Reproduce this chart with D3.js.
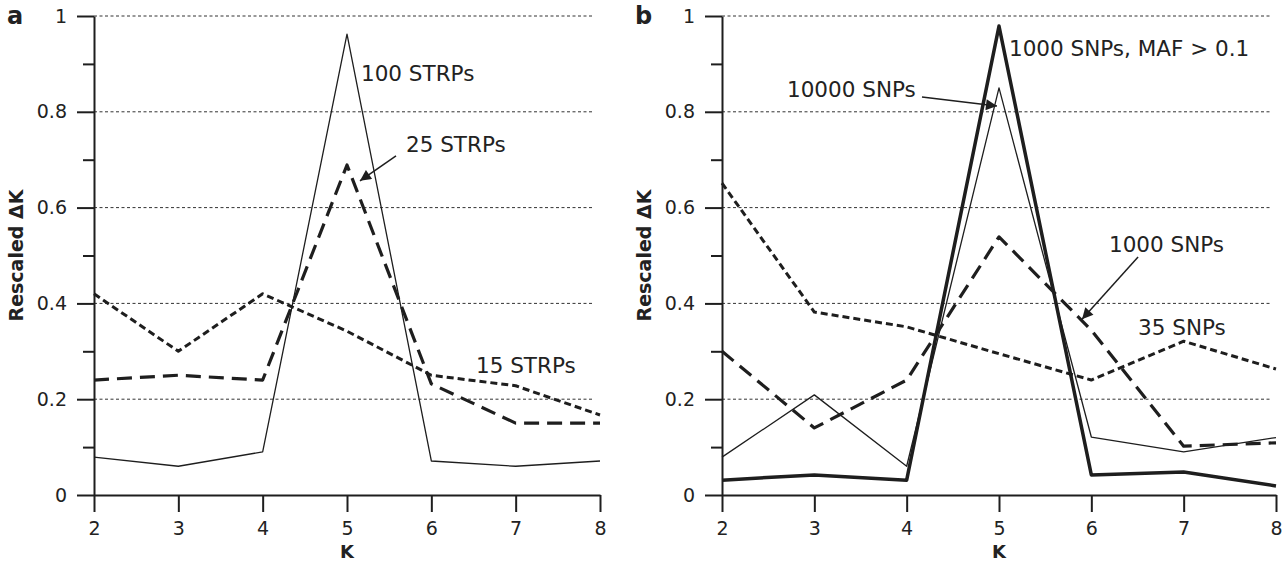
<!DOCTYPE html>
<html>
<head>
<meta charset="utf-8">
<script src="https://cdn.jsdelivr.net/npm/d3@7"></script>
<style>
  body { margin: 0; background: #fff; }
  text { font-family: "DejaVu Sans", sans-serif; fill: #222; }
</style>
</head>
<body>
<svg width="1282" height="561"></svg>
<script>
var kValues = [2, 3, 4, 5, 6, 7, 8];
var yMajor = [0, 0.2, 0.4, 0.6, 0.8, 1];
var yMinor = [0.1, 0.3, 0.5, 0.7, 0.9];
var yTickLabels = ["0", "0.2", "0.4", "0.6", "0.8", "1"];

// panel a: STRPs
var strp100 = [0.079, 0.060, 0.090, 0.962, 0.071, 0.060, 0.071];
var strp25  = [0.240, 0.250, 0.240, 0.689, 0.232, 0.150, 0.150];
var strp15  = [0.420, 0.300, 0.420, 0.342, 0.250, 0.228, 0.167];

// panel b: SNPs
var snp1000maf = [0.031, 0.042, 0.031, 0.979, 0.042, 0.048, 0.019];
var snp10000   = [0.079, 0.209, 0.060, 0.850, 0.121, 0.090, 0.120];
var snp1000    = [0.300, 0.140, 0.240, 0.539, 0.344, 0.102, 0.109];
var snp35      = [0.651, 0.382, 0.351, 0.295, 0.240, 0.321, 0.263];

// annotation labels, in data coordinates [K, value]
var labelsA = [
  {text: "100 STRPs", at: [5.166, 0.864]},
  {text: "25 STRPs", at: [5.70, 0.716], from: [5.581, 0.708], to: [5.154, 0.656]},
  {text: "15 STRPs", at: [6.53, 0.255]}
];
var labelsB = [
  {text: "1000 SNPs, MAF > 0.1", at: [5.108, 0.916]},
  {text: "10000 SNPs", at: [2.704, 0.831], from: [4.166, 0.831], to: [4.978, 0.812]},
  {text: "1000 SNPs", at: [6.191, 0.507], from: [6.506, 0.497], to: [5.899, 0.367]},
  {text: "35 SNPs", at: [6.506, 0.334]}
];

var ink = "#1e1e1e";
var svg = d3.select("svg");

svg.append("defs").append("marker")
    .attr("id", "arrow")
    .attr("viewBox", "0 0 10 10")
    .attr("refX", 10)
    .attr("refY", 5)
    .attr("markerUnits", "userSpaceOnUse")
    .attr("markerWidth", 13)
    .attr("markerHeight", 11)
    .attr("orient", "auto")
  .append("path")
    .attr("d", "M0,0L10,5L0,10z")
    .attr("fill", ink);

var y = d3.scaleLinear().domain([0, 1]).range([495, 16]);

function drawPanel(letter, x0, x1, series, labels) {
  var x = d3.scaleLinear().domain([2, 8]).range([x0, x1]);
  var g = svg.append("g");

  // dotted grid
  g.append("g").selectAll("line")
    .data(yMajor.slice(1))
    .enter().append("line")
      .attr("x1", x0)
      .attr("x2", x1 - 6)
      .attr("y1", function(d) { return y(d); })
      .attr("y2", function(d) { return y(d); })
      .attr("stroke", "#333")
      .attr("stroke-width", 1)
      .attr("stroke-dasharray", "3,2.5");

  var yAxis = g.append("g")
      .attr("transform", "translate(" + x0 + ",0)")
      .call(d3.axisLeft(y).tickValues(yMajor).tickSize(17).tickSizeOuter(0).tickPadding(10)
        .tickFormat(function(d, i) { return yTickLabels[i]; }));

  g.append("g")
      .attr("transform", "translate(" + x0 + ",0)")
      .call(d3.axisLeft(y).tickValues(yMinor).tickSize(11).tickSizeOuter(0).tickFormat(""))
      .select(".domain").remove();

  var xAxis = g.append("g")
      .attr("transform", "translate(0," + y(0) + ")")
      .call(d3.axisBottom(x).tickValues(kValues).tickSize(17).tickSizeOuter(0).tickPadding(10)
        .tickFormat(d3.format("d")));

  g.selectAll(".domain, .tick line")
      .attr("stroke", ink)
      .attr("stroke-width", 2);
  g.selectAll(".tick text")
      .attr("font-family", "DejaVu Sans")
      .attr("font-size", 19)
      .attr("fill", ink);

  var line = d3.line()
      .x(function(d, i) { return x(kValues[i]); })
      .y(function(d) { return y(d); });

  series.forEach(function(s) {
    g.append("path")
      .datum(s.values)
      .attr("d", line)
      .attr("fill", "none")
      .attr("stroke", ink)
      .attr("stroke-width", s.width)
      .attr("stroke-linejoin", "round")
      .attr("stroke-dasharray", s.dash);
  });

  labels.forEach(function(l) {
    g.append("text")
      .attr("x", x(l.at[0]))
      .attr("y", y(l.at[1]))
      .attr("font-size", 21.5)
      .text(l.text);
    if (l.from) {
      g.append("line")
        .attr("x1", x(l.from[0]))
        .attr("y1", y(l.from[1]))
        .attr("x2", x(l.to[0]))
        .attr("y2", y(l.to[1]))
        .attr("stroke", ink)
        .attr("stroke-width", 1.5)
        .attr("marker-end", "url(#arrow)");
    }
  });

  // axis titles
  g.append("text")
    .attr("x", x(5))
    .attr("y", 558)
    .attr("text-anchor", "middle")
    .attr("font-weight", "bold")
    .attr("font-size", 18)
    .text("K");

  g.append("text")
    .attr("transform", "translate(" + (x0 - 71) + "," + y(0.5) + ") rotate(-90)")
    .attr("text-anchor", "middle")
    .attr("font-weight", "bold")
    .attr("font-size", 19)
    .text("Rescaled \u0394K");

  g.append("text")
    .attr("x", x0 - 87)
    .attr("y", 24)
    .attr("font-weight", "bold")
    .attr("font-size", 24)
    .text(letter);
}

drawPanel("a", 94, 600, [
  {values: strp100, width: 1.3, dash: null},
  {values: strp25, width: 3.2, dash: "15,8"},
  {values: strp15, width: 3, dash: "7,4"}
], labelsA);

drawPanel("b", 722, 1276, [
  {values: snp1000maf, width: 3.5, dash: null},
  {values: snp10000, width: 1.3, dash: null},
  {values: snp1000, width: 3.2, dash: "15,8"},
  {values: snp35, width: 3, dash: "7,4"}
], labelsB);
</script>
</body>
</html>
